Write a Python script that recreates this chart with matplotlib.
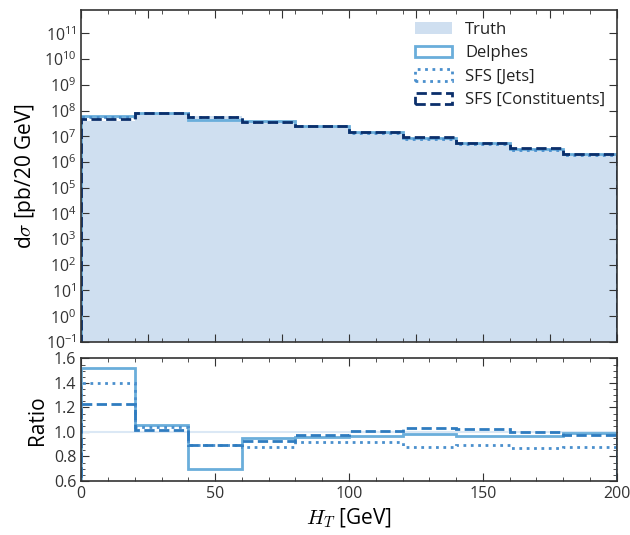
import numpy as np
import matplotlib
matplotlib.use("Agg")
import matplotlib.pyplot as plt
from matplotlib.ticker import MultipleLocator

plt.rcParams['font.family'] = ['Open Sans', 'DejaVu Sans']
plt.rcParams['mathtext.fontset'] = 'cm'

bin_edges = [0, 20, 40, 60, 80, 100, 120, 140, 160, 180, 200]
truth = [3.9e7, 7.7e7, 6.2e7, 4.0e7, 2.6e7, 1.5e7, 8.8e6, 5.4e6, 3.4e6, 2.1e6]
delphes = [5.93e7, 8.16e7, 4.34e7, 3.80e7, 2.50e7, 1.455e7, 8.62e6, 5.21e6, 3.30e6, 2.08e6]
sfs_jets = [5.46e7, 8.01e7, 5.52e7, 3.52e7, 2.39e7, 1.38e7, 7.74e6, 4.81e6, 2.96e6, 1.84e6]
sfs_const = [4.80e7, 7.85e7, 5.52e7, 3.72e7, 2.535e7, 1.515e7, 9.06e6, 5.51e6, 3.40e6, 2.04e6]

xlabel = r'$H_T$ [GeV]'
ylabel_main = r'd$\sigma$ [pb/20 GeV]'
ylabel_ratio = 'Ratio'

edges = np.array(bin_edges, dtype=float)
centers = 0.5 * (edges[1:] + edges[:-1])
truth_a = np.array(truth)

c_truth = '#cfdff0'
c_delphes = '#6aaedb'
c_jets = '#4a8fcd'
c_const_main = '#0b2f6b'
c_const_ratio = '#2f7cc0'

fig = plt.figure(figsize=(6.3, 5.35), dpi=100)
ax = fig.add_axes([0.129, 0.361, 0.850, 0.620])
axr = fig.add_axes([0.129, 0.101, 0.850, 0.229])

ax.hist(centers, bins=edges, weights=truth, histtype='stepfilled', color=c_truth, label='Truth')
ax.hist(centers, bins=edges, weights=delphes, histtype='step', color=c_delphes, lw=2.0, label='Delphes')
ax.hist(centers, bins=edges, weights=sfs_jets, histtype='step', color=c_jets, lw=2.0, ls=':', label='SFS [Jets]')
ax.hist(centers, bins=edges, weights=sfs_const, histtype='step', color=c_const_main, lw=2.0, ls='--', label='SFS [Constituents]')
ax.set_yscale('log')
ax.set_ylim(0.1, 8e11)
ax.set_xlim(0, 200)
ax.set_ylabel(ylabel_main, fontsize=15)
ax.set_yticks([10.0 ** k for k in range(-1, 12)])
ax.tick_params(labelbottom=False)
leg = ax.legend(loc='upper right', frameon=False, fontsize=12, handlelength=2.2,
                borderaxespad=0.3, labelspacing=0.45)
for t in leg.get_texts():
    t.set_color('#222222')

axr.hist(centers, bins=edges, weights=truth_a / truth_a, histtype='step', color='#dbe8f5', lw=1.5)
axr.hist(centers, bins=edges, weights=np.array(delphes) / truth_a, histtype='step', color=c_delphes, lw=2.0)
axr.hist(centers, bins=edges, weights=np.array(sfs_jets) / truth_a, histtype='step', color=c_jets, lw=2.0, ls=':')
axr.hist(centers, bins=edges, weights=np.array(sfs_const) / truth_a, histtype='step', color=c_const_ratio, lw=2.0, ls='--')
axr.set_xlim(0, 200)
axr.set_ylim(0.6, 1.6)
axr.set_yticks(np.arange(0.6, 1.61, 0.2))
axr.set_xticks([0, 50, 100, 150, 200])
axr.set_xlabel(xlabel, fontsize=15)
axr.set_ylabel(ylabel_ratio, fontsize=15)

for a in (ax, axr):
    a.xaxis.set_minor_locator(MultipleLocator(10))
    a.tick_params(which='both', direction='in', top=True, right=True, labelsize=11.5, colors='#333333')
    a.tick_params(which='major', length=6, width=0.8)
    a.tick_params(which='minor', length=3, width=0.6)
    for s in a.spines.values():
        s.set_color('#333333')
        s.set_linewidth(1.2)
axr.yaxis.set_minor_locator(MultipleLocator(0.05))

fig.savefig('out.png', dpi=100)
